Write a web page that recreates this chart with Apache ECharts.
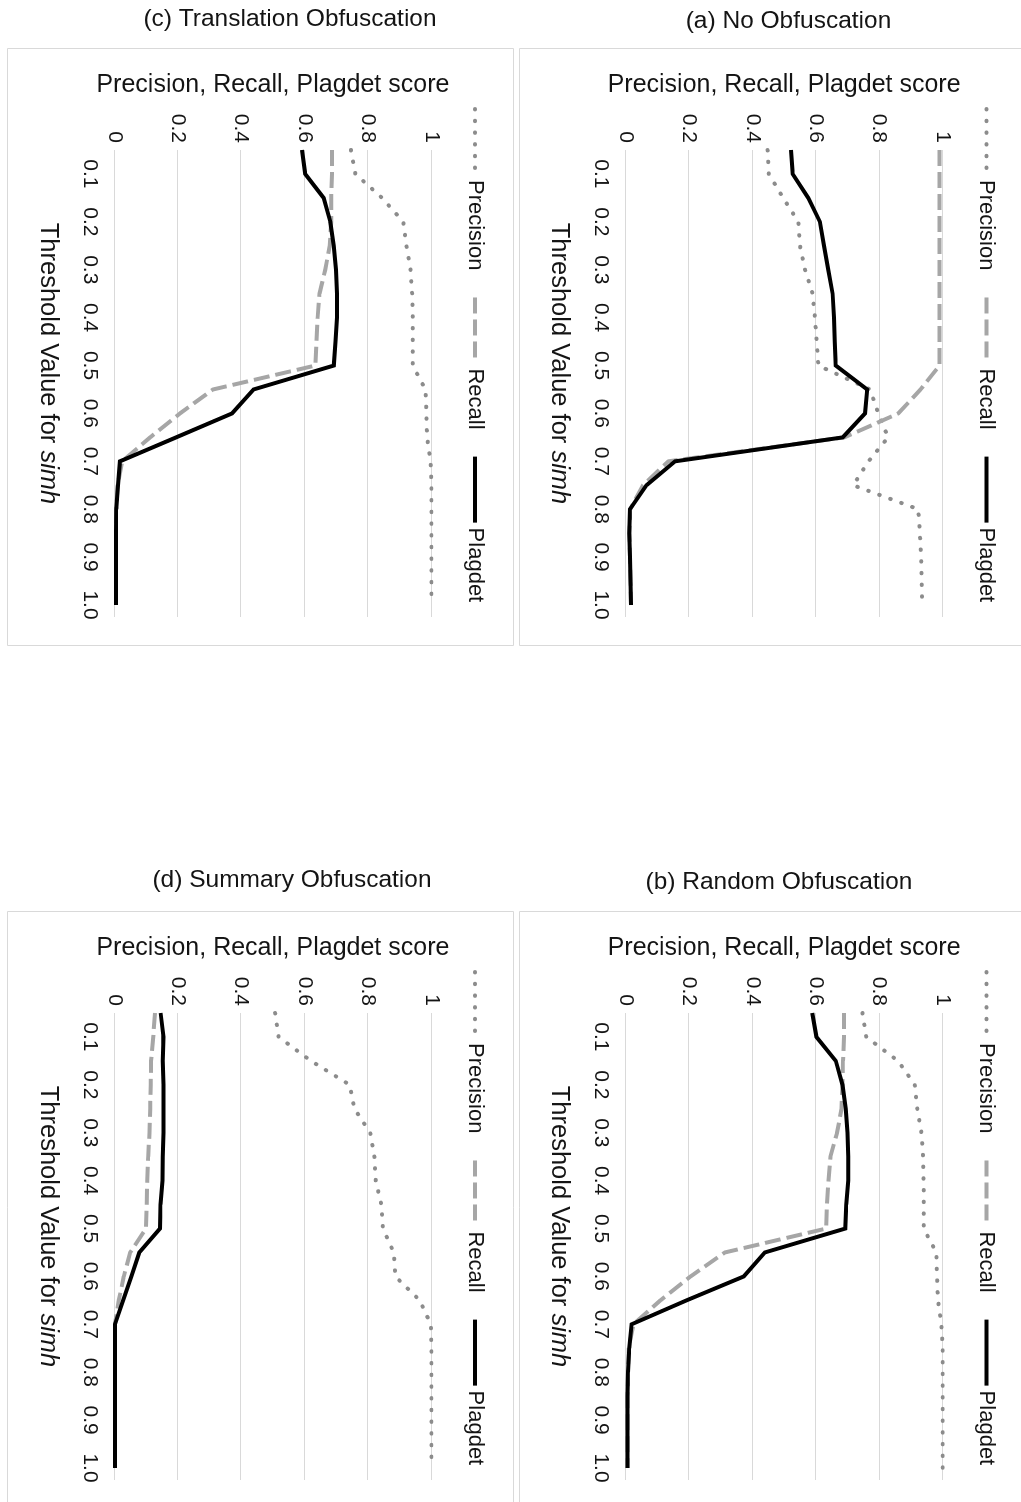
<!DOCTYPE html>
<html>
<head>
<meta charset="utf-8">
<script src="https://cdn.jsdelivr.net/npm/echarts@6/dist/echarts.min.js"></script>
<style>
html,body{margin:0;padding:0;width:1021px;height:1502px;overflow:hidden;background:#fff;}
#chart{position:absolute;left:0;top:0;width:1502px;height:1021px;transform-origin:0 0;transform:translateX(1021px) rotate(90deg);}
</style>
</head>
<body>
<div id="chart"></div>
<script>
// Threshold values for simh (x axis)
const thresholds = [0.05,0.1,0.15,0.2,0.25,0.3,0.35,0.4,0.45,0.5,0.55,0.6,0.65,0.7,0.75,0.8,0.85,0.9,0.95,1.0];
const seriesNames = ['Precision','Recall','Plagdet'];

// (a) No Obfuscation
const noObfPrecision = [0.448,0.452,0.497,0.545,0.55,0.566,0.59,0.597,0.603,0.608,0.771,0.797,0.828,0.766,0.718,0.923,0.928,0.932,0.934,0.935];
const noObfRecall    = [0.99,0.99,0.99,0.99,0.99,0.99,0.99,0.99,0.99,0.99,0.93,0.86,0.69,0.135,0.055,0.015,0.013,0.014,0.016,0.017];
const noObfPlagdet   = [0.522,0.527,0.576,0.613,0.626,0.639,0.653,0.657,0.66,0.663,0.762,0.755,0.685,0.156,0.066,0.014,0.012,0.014,0.016,0.017];

// (b) Random Obfuscation
const randomPrecision = [0.747,0.759,0.859,0.912,0.92,0.933,0.938,0.94,0.94,0.94,0.98,0.982,0.985,0.996,1,1,1,1,1,1];
const randomRecall    = [0.689,0.689,0.686,0.684,0.681,0.667,0.646,0.64,0.635,0.633,0.313,0.205,0.11,0.025,0.01,0.008,0.006,0.006,0.006,0.006];
const randomPlagdet   = [0.589,0.602,0.663,0.684,0.694,0.7,0.702,0.702,0.696,0.693,0.439,0.373,0.192,0.019,0.012,0.008,0.006,0.006,0.006,0.006];

// (c) Translation Obfuscation
const translationPrecision = [0.746,0.76,0.844,0.911,0.921,0.934,0.939,0.941,0.941,0.941,0.981,0.984,0.986,0.997,1,1,1,1,1,1];
const translationRecall    = [0.686,0.686,0.684,0.684,0.679,0.665,0.647,0.641,0.637,0.634,0.311,0.207,0.113,0.025,0.01,0.006,0.005,0.005,0.005,0.005];
const translationPlagdet   = [0.592,0.602,0.66,0.681,0.692,0.699,0.702,0.702,0.697,0.692,0.439,0.371,0.195,0.018,0.012,0.006,0.005,0.005,0.005,0.005];

// (d) Summary Obfuscation
const summaryPrecision = [0.507,0.518,0.62,0.742,0.757,0.807,0.82,0.824,0.842,0.847,0.881,0.886,0.963,0.998,1,1,1,1,1,1];
const summaryRecall    = [0.128,0.123,0.116,0.115,0.113,0.111,0.107,0.104,0.102,0.1,0.05,0.03,0.014,0.002,0.002,0.002,0.002,0.002,0.002,0.002];
const summaryPlagdet   = [0.146,0.155,0.153,0.155,0.155,0.155,0.153,0.152,0.146,0.144,0.079,0.054,0.028,0.002,0.002,0.002,0.002,0.002,0.002,0.002];

const panelTitles = ['(c) Translation Obfuscation','(a) No Obfuscation','(d) Summary Obfuscation','(b) Random Obfuscation'];
const panelData = [
  [translationPrecision, translationRecall, translationPlagdet],
  [noObfPrecision, noObfRecall, noObfPlagdet],
  [summaryPrecision, summaryRecall, summaryPlagdet],
  [randomPrecision, randomRecall, randomPlagdet]
];

// Layout (unrotated canvas coords; the canvas is rotated 90deg clockwise on the page)
const layout = [
  {grid:{left:150, top:589.5}, title:{x:19, y:731},   legend:{left:102, top:530},  box:{x:48.5, y:507.5, w:597, h:506}},
  {grid:{left:150, top:78.3},  title:{x:21, y:232.5}, legend:{left:102, top:18.5}, box:{x:48.5, y:-2, w:597, h:503.5}},
  {grid:{left:1013, top:589.5},title:{x:880, y:729},  legend:{left:965, top:530},  box:{x:911.5, y:507.5, w:600, h:506}},
  {grid:{left:1013, top:78.3}, title:{x:882, y:242},  legend:{left:965, top:18.5}, box:{x:911.5, y:-2, w:600, h:503.5}}
];

const FONT = "'Liberation Sans', Arial, sans-serif";
const TXT = '#141414';
const seriesStyles = [
  {color:'#8c8c8c', lineStyle:{width:4, type:[0.5, 11.2], cap:'round', color:'#8c8c8c'}},
  {color:'#a6a6a6', lineStyle:{width:4, type:[16, 6], cap:'butt', color:'#a6a6a6'}},
  {color:'#000000', lineStyle:{width:4, type:'solid', color:'#000000', join:'miter'}}
];

function threshLabel(v){
  const k = Math.round(v * 20);
  if (Math.abs(v * 20 - k) > 1e-6 || k % 2 !== 0) return '';
  return (k / 20).toFixed(1);
}

const grids = [], xAxes = [], yAxes = [], series = [], legends = [], graphics = [];
layout.forEach((L, k) => {
  grids.push({left:L.grid.left, top:L.grid.top, width:467, height:317.2, containLabel:false, outerBoundsMode:'none'});
  xAxes.push({
    type:'value', gridIndex:k, min:0.05, max:1.025, interval:0.05,
    axisLine:{show:false}, axisTick:{show:false}, splitLine:{show:false},
    axisLabel:{formatter:threshLabel, margin:14, fontSize:21, color:TXT, fontFamily:FONT},
    name:'Threshold Value for {i|simh}', nameLocation:'middle', nameGap:53,
    nameTextStyle:{fontSize:25.5, color:TXT, fontFamily:FONT, padding:[0,40,0,0],
      rich:{i:{fontStyle:'italic', fontSize:25.5, color:TXT, fontFamily:FONT}}}
  });
  yAxes.push({
    type:'value', gridIndex:k, min:0, max:1, interval:0.2,
    axisLine:{show:false}, axisTick:{show:false},
    splitLine:{show:true, lineStyle:{color:'#d9d9d9', width:1}},
    axisLabel:{margin:7, fontSize:21, color:TXT, fontFamily:FONT},
    name:'Precision, Recall, Plagdet score', nameLocation:'middle', nameRotate:90, nameGap:52,
    nameTextStyle:{fontSize:25, color:TXT, fontFamily:FONT}
  });
  panelData[k].forEach((vals, s) => {
    series.push({
      type:'line', name:seriesNames[s], xAxisIndex:k, yAxisIndex:k,
      data: thresholds.map((t, i) => [t, vals[i]]),
      symbol:'none', showSymbol:false, smooth:false,
      color: seriesStyles[s].color, lineStyle: seriesStyles[s].lineStyle,
      z: 2 + s
    });
  });
  legends.push({
    data: seriesNames, left:L.legend.left, top:L.legend.top, orient:'horizontal',
    itemWidth:66, itemHeight:14, itemGap:25, selectedMode:false,
    itemStyle:{opacity:0},
    lineStyle:{width:4},
    textStyle:{fontSize:22, color:TXT, fontFamily:FONT}
  });
  graphics.push({
    type:'rect', shape:{x:L.box.x, y:L.box.y, width:L.box.w, height:L.box.h},
    style:{fill:'none', stroke:'#d9d9d9', lineWidth:1}, silent:true, z:0
  });
  graphics.push({
    type:'text', x:L.title.x, y:L.title.y, rotation:Math.PI/2,
    style:{text:panelTitles[k], font:'24.5px ' + FONT, fill:TXT, align:'center', verticalAlign:'middle'},
    silent:true, z:10
  });
});

const chart = echarts.init(document.getElementById('chart'), null, {width:1502, height:1021, renderer:'canvas'});
chart.setOption({
  animation:false,
  backgroundColor:'#ffffff',
  grid:grids, xAxis:xAxes, yAxis:yAxes, series:series, legend:legends,
  graphic:graphics
});
</script>
</body>
</html>
